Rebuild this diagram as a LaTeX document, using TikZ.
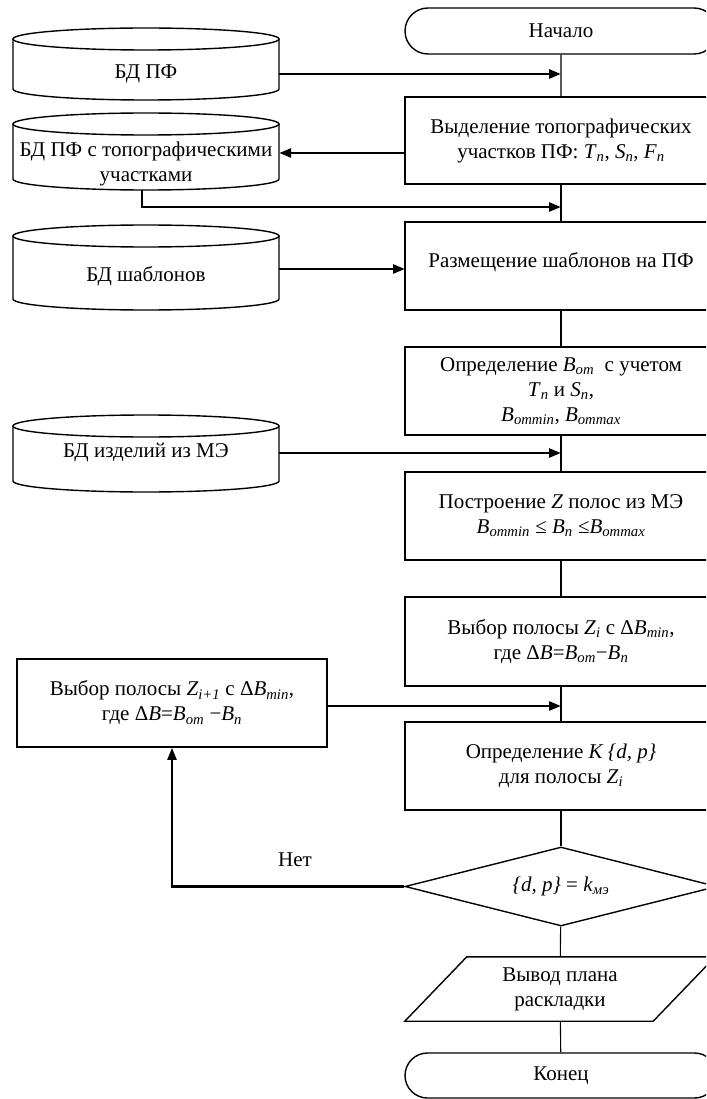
\documentclass[tikz,border=0pt]{standalone}
\usepackage{fontspec}
\setmainfont{Liberation Serif}
\usetikzlibrary{arrows.meta,shapes.geometric,shapes.misc}
\newcommand\iv[2]{\textit{#1}\textsubscript{\textit{#2}}}
% database (cylinder) outline: #1 top y, #2 bottom y
\newcommand\dbshape[2]{%
  \draw[dbline] (146,{#1-11}) ellipse [x radius=133, y radius=11];
  \draw[dbline] (13,{#1-11}) -- (13,{#2+11})
     arc[start angle=180,end angle=360,x radius=133,y radius=11] -- (279,{#1-11});
}
\begin{document}
\begin{tikzpicture}[x=1pt,y=1pt,
  font=\fontsize{21}{25}\selectfont,
  dbline/.style={line width=1.4pt},
  proc/.style={draw, line width=1.6pt, minimum width=312pt, minimum height=88pt, align=center, inner sep=0pt},
  term/.style={draw, rounded rectangle, line width=1.4pt, minimum width=312pt, minimum height=46pt, inner sep=0pt},
  decision/.style={draw, diamond, aspect=3.95, line width=1.4pt, minimum width=312pt, minimum height=79pt, inner sep=0pt},
  dbtext/.style={minimum width=266pt, align=center, inner sep=0pt},
  flow/.style={line width=1.1pt},
  feed/.style={line width=2.6pt, -{Triangle[length=12pt,width=9pt]}},
  label/.style={inner sep=0pt}
]
\useasboundingbox (0,0) rectangle (706,-1099);
\clip (0,0) rectangle (706,-1099);

% main column
\node[term] (start) at (561,-31) {Начало};
\node[proc, minimum height=87pt] (b1) at (561,-140.5) {Выделение топографических\\участков ПФ: \iv{T}{n}, \iv{S}{n}, \iv{F}{n}};
\node[proc] (b2) at (561,-266) {\raisebox{12pt}{Размещение шаблонов на ПФ}};
\node[proc] (b3) at (561,-391) {Определение \iv{B}{от}\ \ с учетом\\\iv{T}{n} и \iv{S}{n},\\\iv{B}{отmin}, \iv{B}{отmax}};
\node[proc] (b4) at (561,-516) {Построение \textit{Z} полос из МЭ\\\iv{B}{отmin} ≤ \iv{B}{n} ≤\iv{B}{отmax}};
\node[proc, minimum height=89pt] (b5) at (561,-641.5) {Выбор полосы \iv{Z}{i} с Δ\iv{B}{min},\\где Δ\textit{B}=\iv{B}{от}−\iv{B}{n}};
\node[proc] (b6) at (561,-766) {Определение \textit{K \{d, p\}}\\для полосы \iv{Z}{i}};
\node[decision] (dec) at (561,-886.5) {\textit{\{d, p\}} = \iv{k}{мэ}};
\node[minimum width=310pt, minimum height=64pt, inner sep=0pt, align=center] (out) at (560,-989) {Вывод плана\\раскладки};
\draw[line width=1.4pt] (out.south west) -- ([xshift=-62pt]out.south east) -- (out.north east) -- ([xshift=62pt]out.north west) -- cycle;
\node[term, minimum height=45pt] (end) at (561,-1075.5) {Конец};

% left column
\node[dbtext] (db1) at (146,-74) {БД ПФ};
\dbshape{-28}{-100}
\node[dbtext] (db2) at (146,-163.5) {БД ПФ с топографическими\\участками};
\dbshape{-113}{-190}
\node[dbtext] (db3) at (146,-276) {БД шаблонов};
\dbshape{-225}{-310}
\node[dbtext] (db4) at (146,-453) {БД изделий из МЭ};
\dbshape{-415}{-492}
\node[proc, minimum width=310pt] (lb) at (172,-703) {Выбор полосы \iv{Z}{i+1} с Δ\iv{B}{min},\\где Δ\textit{B}=\iv{B}{от} −\iv{B}{n}};
\node[label] (no) at (295,-860) {Нет};

% junction points on the main line
\coordinate (j1) at (561,-74);
\coordinate (j2) at (561,-207);
\coordinate (j3) at (405,-269);
\coordinate (j4) at (561,-453);
\coordinate (j6) at (561,-706);
\coordinate (db2b) at (142,-190);
\coordinate (b1a) at (405,-153);

% main flow lines
\draw[flow] (start) -- (b1);
\draw[flow] (b1) -- (b2);
\draw[flow] (b2) -- (b3);
\draw[flow] (b3) -- (b4);
\draw[flow] (b4) -- (b5);
\draw[flow] (b5) -- (b6);
\draw[flow] (b6) -- (dec);
\draw[flow] (dec) -- (out);
\draw[flow] (out) -- (end);

% feeds
\draw[feed] (db1.east) -- (j1);
\draw[feed] (b1a) -- (db2.east |- b1a);
\draw[feed] (db2b) |- (j2);
\draw[feed] (db3.east |- j3) -- (j3);
\draw[feed] (db4.east) -- (j4);
\draw[feed] (lb.east |- j6) -- (j6);
\draw[feed, line width=2.2pt] (dec.west) -| (lb.south);
\end{tikzpicture}
\end{document}
